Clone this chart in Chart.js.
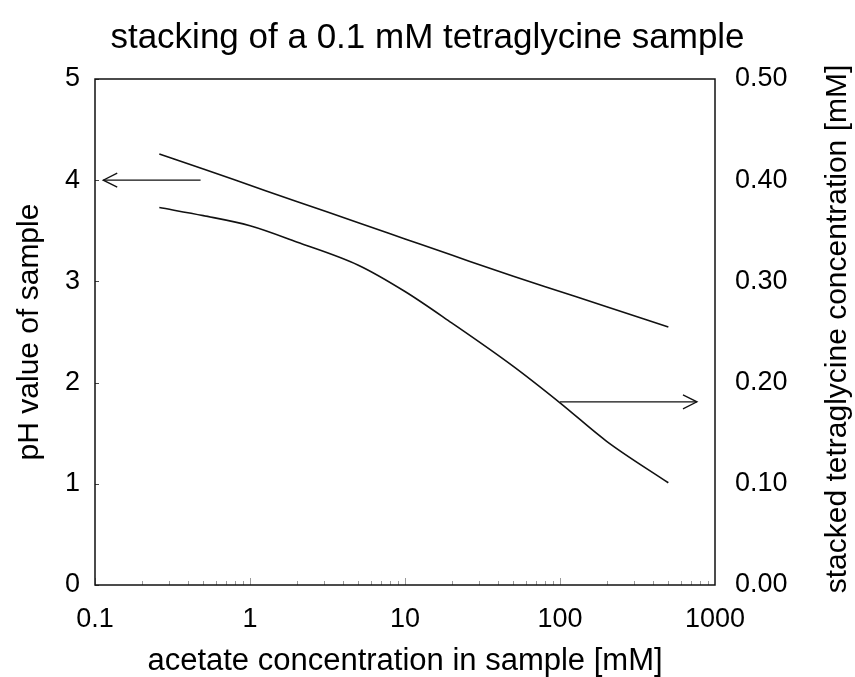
<!DOCTYPE html>
<html><head><meta charset="utf-8">
<script src="https://cdn.jsdelivr.net/npm/chart.js@4.4.0/dist/chart.umd.min.js"></script>
<style>html,body{margin:0;padding:0;background:#fff}#wrap{width:855px;height:677px}</style>
</head><body><div id="wrap"><canvas id="c" width="855" height="677"></canvas></div>
<script>
const acetate = [0.26, 0.5, 1, 2, 5, 10, 20, 50, 100, 200, 500];
const pHSample = [4.26, 4.11, 3.95, 3.79, 3.58, 3.42, 3.26, 3.05, 2.90, 2.75, 2.55];
const stackedConc = [0.373, 0.365, 0.355, 0.339, 0.316, 0.290, 0.259, 0.216, 0.180, 0.142, 0.101];
const xTicks = [0.1, 1, 10, 100, 1000];
const pHTicks = [0, 1, 2, 3, 4, 5];
const concTicks = [0, 0.1, 0.2, 0.3, 0.4, 0.5];
const arrowPH = {x: [0.48, 0.113], y: [4, 4]};
const arrowConc = {x: [100, 765], y: [0.181, 0.181]};
const rightTitle = 'stacked tetraglycine concentration [mM]';

const FONT = "'Liberation Sans', Arial, sans-serif";

function drawArrow(ctx, x1, y1, x2, y2) {
  ctx.beginPath(); ctx.moveTo(x1, y1); ctx.lineTo(x2, y2); ctx.stroke();
  const dir = Math.sign(x2 - x1);
  ctx.beginPath();
  ctx.moveTo(x2 - dir * 14, y2 - 7);
  ctx.lineTo(x2, y2);
  ctx.lineTo(x2 - dir * 14, y2 + 7);
  ctx.stroke();
}

const deco = {
  id: 'deco',
  afterDatasetsDraw(chart) {
    const {ctx, chartArea: a, scales} = chart;
    const x = scales.x, y = scales.y, y2 = scales.y2;
    ctx.save();
    // x minor/major ticks (inward)
    ctx.strokeStyle = '#9a9a9a'; ctx.lineWidth = 1;
    for (let d = -1; d < 3; d++) {
      for (let m = 1; m < 10; m++) {
        const v = m * Math.pow(10, d);
        const px = Math.round(x.getPixelForValue(v)) + 0.5;
        const len = m === 1 ? 7 : 4;
        ctx.beginPath(); ctx.moveTo(px, a.bottom); ctx.lineTo(px, a.bottom - len); ctx.stroke();
      }
    }
    // left y ticks (inward)
    ctx.strokeStyle = '#444';
    pHTicks.forEach(v => {
      const py = Math.round(y.getPixelForValue(v)) + 0.5;
      ctx.beginPath(); ctx.moveTo(a.left, py); ctx.lineTo(a.left + 4, py); ctx.stroke();
    });
    // frame
    ctx.strokeStyle = '#111'; ctx.lineWidth = 1.5;
    ctx.strokeRect(a.left, a.top, a.right - a.left, a.bottom - a.top);
    // arrows
    ctx.strokeStyle = '#111'; ctx.lineWidth = 1.3;
    drawArrow(ctx, x.getPixelForValue(arrowPH.x[0]), y.getPixelForValue(arrowPH.y[0]),
                   x.getPixelForValue(arrowPH.x[1]), y.getPixelForValue(arrowPH.y[1]));
    drawArrow(ctx, x.getPixelForValue(arrowConc.x[0]), y2.getPixelForValue(arrowConc.y[0]),
                   x.getPixelForValue(arrowConc.x[1]), y2.getPixelForValue(arrowConc.y[1]));
    // right axis title, reading bottom-to-top like the left one
    ctx.fillStyle = '#000';
    ctx.font = '30px ' + FONT;
    ctx.textAlign = 'center'; ctx.textBaseline = 'middle';
    ctx.translate(y2.right - 17, (a.top + a.bottom) / 2 - 3);
    ctx.rotate(-Math.PI / 2);
    ctx.fillText(rightTitle, 0, 0);
    ctx.restore();
  }
};

new Chart(document.getElementById('c'), {
  type: 'line',
  data: {
    datasets: [
      {label: 'pH value of sample', data: acetate.map((v, i) => ({x: v, y: pHSample[i]})),
       yAxisID: 'y', borderColor: '#111', borderWidth: 1.6, pointRadius: 0, fill: false,
       cubicInterpolationMode: 'monotone'},
      {label: rightTitle, data: acetate.map((v, i) => ({x: v, y: stackedConc[i]})),
       yAxisID: 'y2', borderColor: '#111', borderWidth: 1.6, pointRadius: 0, fill: false,
       cubicInterpolationMode: 'monotone'}
    ]
  },
  options: {
    responsive: false, animation: false, devicePixelRatio: 1,
    layout: {padding: 0},
    plugins: {
      legend: {display: false}, tooltip: {enabled: false},
      title: {display: true, text: 'stacking of a 0.1 mM tetraglycine sample', color: '#000',
        font: {family: FONT, size: 35, weight: 'normal', lineHeight: 1.2}, padding: {top: 17, bottom: 20}}
    },
    scales: {
      x: {
        type: 'logarithmic', position: 'bottom', min: 0.1, max: 1000,
        grid: {display: false, drawTicks: false}, border: {display: false},
        afterBuildTicks: s => { s.ticks = xTicks.map(v => ({value: v})); },
        afterFit: s => { s.height = 92; },
        ticks: {autoSkip: false, maxRotation: 0, color: '#000', padding: 18,
          font: {family: FONT, size: 27}, callback: v => String(v)},
        title: {display: true, text: 'acetate concentration in sample [mM]', color: '#000',
          font: {family: FONT, size: 31, lineHeight: 1}, padding: {top: 0, bottom: 0}}
      },
      y: {
        type: 'linear', position: 'left', min: 0, max: 5,
        grid: {display: false, drawTicks: false}, border: {display: false},
        afterBuildTicks: s => { s.ticks = pHTicks.map(v => ({value: v})); },
        afterFit: s => { s.width = 95; },
        ticks: {color: '#000', padding: 15, font: {family: FONT, size: 27}, callback: v => String(v)},
        title: {display: true, text: 'pH value of sample', color: '#000',
          font: {family: FONT, size: 30, lineHeight: 1}, padding: {top: 15, bottom: 0}}
      },
      y2: {
        type: 'linear', position: 'right', min: 0, max: 0.5,
        grid: {display: false, drawTicks: false}, border: {display: false},
        afterBuildTicks: s => { s.ticks = concTicks.map(v => ({value: v})); },
        afterFit: s => { s.width = 140; },
        ticks: {color: '#000', padding: 20, font: {family: FONT, size: 27}, callback: v => Number(v).toFixed(2)},
        title: {display: false, text: rightTitle}
      }
    }
  },
  plugins: [deco]
});
</script></body></html>
